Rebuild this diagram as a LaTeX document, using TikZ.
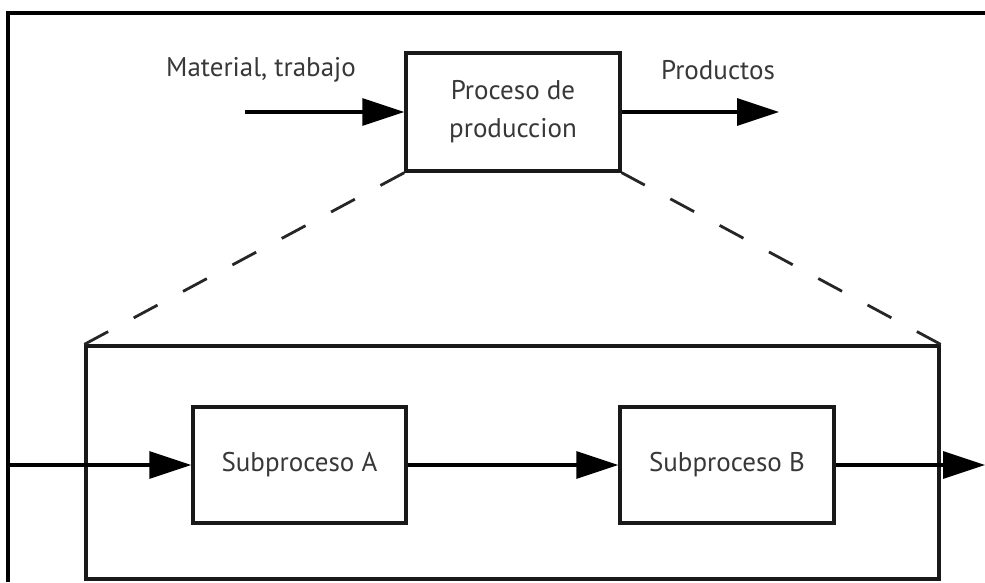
\documentclass[tikz,border=0pt]{standalone}
\usepackage{fontspec}
\setmainfont{PT Sans}
\usetikzlibrary{arrows.meta}
\begin{document}
\begin{tikzpicture}[x=1pt,y=-1pt,
  box/.style={draw=black!90, line width=3.3pt, minimum width=#1, minimum height=116pt, inner sep=0pt,
              text=black!78, font=\fontsize{27}{38}\selectfont, align=center},
  label/.style={text=black!78, font=\fontsize{27}{38}\selectfont, inner sep=0pt},
  flow/.style={line width=3.1pt, -{Triangle[length=42pt,width=27pt]}},
  zoomline/.style={line width=2.8pt, draw=black!85, dash pattern=on 27pt off 29pt}
]
\useasboundingbox (0,0) rectangle (985,582);

% frame around the figure
\draw[line width=3.6pt] (8,582) -- (8,13) -- (985,13);

% overall process
\node[box=214pt, minimum height=118pt] (proc) at (513,112) {Proceso de\\produccion};
\node[label] (mat) at (261,70) {Material, trabajo};
\node[label] (prod) at (718,70) {Productos};
\coordinate (inp) at (245,112);
\coordinate (outp) at (779,112);
\draw[flow] (inp) -- (proc.west);
\draw[flow] (proc.east) -- (outp);

% expanded view
\node[draw=black!90, line width=3.3pt, minimum width=853pt, minimum height=233pt, inner sep=0pt] (big) at (512.5,462.5) {};
\node[box=213pt] (subA) at (299.5,465) {Subproceso A};
\node[box=214pt] (subB) at (727,465) {Subproceso B};
\coordinate (src) at (8,465);
\coordinate (sink) at (985,465);
\draw[flow] (src) -- (subA.west);
\draw[flow] (subA.east) -- (subB.west);
\draw[flow] (subB.east) -- (sink);

% dashed projection lines
\draw[zoomline] (big.north west) -- (proc.south west);
\draw[zoomline] (big.north east) -- (proc.south east);
\end{tikzpicture}
\end{document}
